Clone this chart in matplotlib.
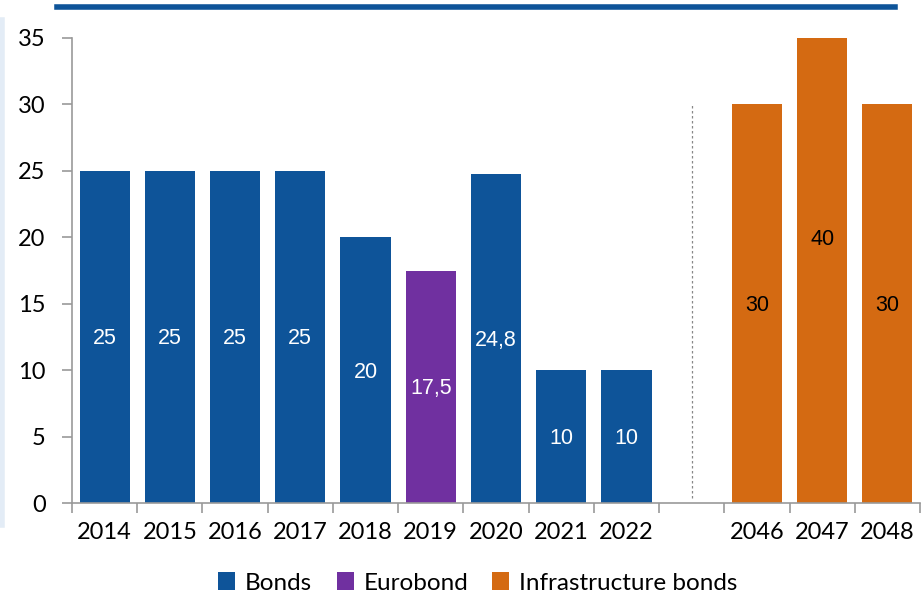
import matplotlib.pyplot as plt
from matplotlib.lines import Line2D
from matplotlib.patches import Patch

categories = ["2014", "2015", "2016", "2017", "2018", "2019", "2020", "2021", "2022",
              "", "2046", "2047", "2048"]
values = [25, 25, 25, 25, 20, 17.5, 24.8, 10, 10, None, 30, 40, 30]
series = ["Bonds", "Bonds", "Bonds", "Bonds", "Bonds", "Eurobond", "Bonds", "Bonds", "Bonds",
          None, "Infrastructure bonds", "Infrastructure bonds", "Infrastructure bonds"]
labels = ["25", "25", "25", "25", "20", "17,5", "24,8", "10", "10", "", "30", "40", "30"]

colors = {"Bonds": "#0E5499", "Eurobond": "#7030A0", "Infrastructure bonds": "#D46A12"}
label_colors = {"Bonds": "white", "Eurobond": "white", "Infrastructure bonds": "black"}

YMAX = 35

fig = plt.figure(figsize=(9.24, 5.96), dpi=100)
ax = fig.add_axes([72 / 924, 1 - 503 / 596, 848 / 924, 465 / 596])

for i, (v, s, lab) in enumerate(zip(values, series, labels)):
    if v is None:
        continue
    ax.bar(i, v, width=0.77, color=colors[s], edgecolor="none")
    ax.text(i, min(v, YMAX * 2) / 2 - 0.15, lab, ha="center", va="center",
            color=label_colors[s], fontsize=15.5, family="Liberation Sans")

# dotted separator in the empty slot
ax.plot([9, 9], [0.4, 30], color="#888888", lw=0.9, ls=(0, (2, 2)))

ax.set_xlim(-0.5, len(categories) - 0.5)
ax.set_ylim(0, YMAX)
ax.set_yticks(range(0, 36, 5))
ax.set_xticks(range(len(categories)))
ax.set_xticklabels(categories)
ax.set_xticks([i - 0.5 for i in range(len(categories) + 1)], minor=True)
ax.tick_params(axis="x", which="major", length=0, pad=14, labelsize=17)
ax.tick_params(axis="x", which="minor", length=7, color="#999999", width=1.2)
ax.tick_params(axis="y", length=7, color="#999999", width=1.2, pad=12, labelsize=17)
for t in ax.get_xticklabels() + ax.get_yticklabels():
    t.set_family("Lato")

for side in ["top", "right"]:
    ax.spines[side].set_visible(False)
ax.spines["left"].set_color("#999999")
ax.spines["bottom"].set_color("#999999")
ax.spines["left"].set_linewidth(1.2)
ax.spines["bottom"].set_linewidth(1.2)

handles = [Patch(facecolor=colors[k], edgecolor="none") for k in colors]
fig.legend(handles, list(colors.keys()), loc="center", bbox_to_anchor=(478 / 924, 1 - 583 / 596),
           ncol=3, frameon=False, handlelength=0.7, handleheight=0.7, handletextpad=0.4,
           columnspacing=1.0, prop={"family": "Lato", "size": 17.5})

# top blue rule and faint left border
fig.add_artist(Line2D([57 / 924, 895 / 924], [1 - 7 / 596, 1 - 7 / 596],
                      color="#0E5499", lw=4, transform=fig.transFigure))
fig.add_artist(Line2D([2 / 924, 2 / 924], [1 - 20 / 596, 1 - 525 / 596],
                      color="#E3ECF6", lw=4, transform=fig.transFigure))

fig.savefig("out.png", dpi=100)
